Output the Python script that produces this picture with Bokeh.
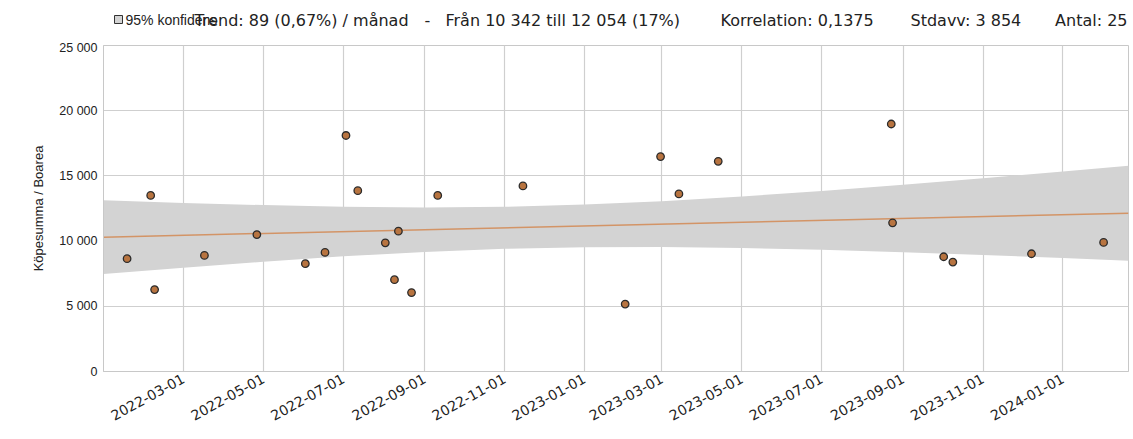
import pandas as pd
from bokeh.plotting import figure
from bokeh.layouts import column
from bokeh.models import (Range1d, FixedTicker, DatetimeTickFormatter,
                          CustomJSTickFormatter)
from bokeh.core.properties import value
from bokeh.embed import file_html
from bokeh.resources import INLINE

# ---------------- data ----------------
dates = ["2022-01-17", "2022-02-04", "2022-02-07", "2022-03-17", "2022-04-26",
         "2022-06-02", "2022-06-17", "2022-07-03", "2022-07-12", "2022-08-02",
         "2022-08-12", "2022-08-09", "2022-08-22", "2022-09-11", "2022-11-15",
         "2023-02-01", "2023-02-28", "2023-03-14", "2023-04-13", "2023-08-23",
         "2023-08-24", "2023-10-02", "2023-10-09", "2023-12-08", "2024-02-01"]
prices = [8650, 13500, 6280, 8900, 10500,
          8270, 9130, 18100, 13870, 9870,
          10760, 7040, 6050, 13500, 14230,
          5170, 16480, 13620, 16120, 18980,
          11400, 8800, 8390, 9030, 9900]

trend_dates = ["2021-12-30", "2024-02-20"]
trend_values = [10300, 12140]

band_dates = ["2021-12-30", "2022-03-01", "2022-05-01", "2022-07-01", "2022-09-01",
              "2022-11-01", "2023-01-01", "2023-03-01", "2023-05-01", "2023-07-01",
              "2023-09-01", "2023-11-01", "2024-01-01", "2024-02-20"]
band_upper = [13130, 12930, 12760, 12640, 12580, 12630, 12800, 13060, 13420, 13850,
              14320, 14820, 15340, 15780]
band_lower = [7470, 7960, 8420, 8830, 9170, 9410, 9530, 9540, 9470, 9330,
              9140, 8930, 8700, 8500]

x_tick_labels = ["2022-03-01", "2022-05-01", "2022-07-01", "2022-09-01", "2022-11-01",
                 "2023-01-01", "2023-03-01", "2023-05-01", "2023-07-01", "2023-09-01",
                 "2023-11-01", "2024-01-01"]
y_ticks = [0, 5000, 10000, 15000, 20000, 25000]

header_conf = "95% konfidens"
header_trend = "Trend: 89 (0,67%) / månad"
header_dash = "-"
header_from = "Från 10 342 till 12 054 (17%)"
header_corr = "Korrelation: 0,1375"
header_std = "Stdavv: 3 854"
header_n = "Antal: 25"


def ms(d):
    return pd.Timestamp(d).value // 10**6


X0 = ms("2021-12-30")
X1 = ms("2024-02-20")

W = 1133
HEAD_H = 40
MAIN_H = 399
LEFT = 103
RIGHT_PAD = 5

# ---------------- header strip (x in page pixels; frame aligned with chart) ----------------
h = figure(width=W, height=HEAD_H, output_backend="svg", toolbar_location=None,
           x_range=Range1d(LEFT, W - RIGHT_PAD), y_range=Range1d(HEAD_H, 0),
           x_axis_type=None, y_axis_type=None,
           min_border_left=LEFT, min_border_right=RIGHT_PAD,
           min_border_top=0, min_border_bottom=0,
           background_fill_color="white", border_fill_color="white")
h.outline_line_color = None
h.grid.visible = False
h.quad(left=[114], right=[122], top=[15], bottom=[23], fill_color="#d3d3d3",
       line_color="#333333", line_width=1)
h.text(x=[125], y=[19.5], text=[header_conf], text_font=value("Liberation Sans"),
       text_font_size=value("14px"), text_color="#222222", text_baseline="middle",
       text_align="left")
h.text(x=[194, 424, 445, 720, 910], y=[19.5] * 5,
       text=[header_trend, header_dash, header_from, header_corr, header_std],
       text_font=value("DejaVu Sans"), text_font_size=value("16px"),
       text_color="#222222", text_baseline="middle", text_align="left")
h.text(x=[1127], y=[19.5], text=[header_n], text_font=value("DejaVu Sans"),
       text_font_size=value("16px"), text_color="#222222", text_baseline="middle",
       text_align="right")

# ---------------- main chart ----------------
p = figure(width=W, height=MAIN_H, output_backend="svg", toolbar_location=None,
           x_range=Range1d(X0, X1), y_range=Range1d(0, 25000),
           min_border_left=LEFT, min_border_right=RIGHT_PAD, min_border_top=5,
           min_border_bottom=68, background_fill_color="white",
           border_fill_color="white")

p.varea(x=[ms(d) for d in band_dates], y1=band_lower, y2=band_upper,
        color="#d3d3d3")
p.line(x=[ms(d) for d in trend_dates], y=trend_values, line_color="#d39466",
       line_width=1.5)
p.scatter(x=[ms(d) for d in dates], y=prices, size=7.5, fill_color="#b87440",
          line_color="#2b2b2b", line_width=1.3)

p.xaxis.ticker = FixedTicker(ticks=[ms(d) for d in x_tick_labels])
fmt = "%Y-%m-%d"
p.xaxis.formatter = DatetimeTickFormatter(milliseconds=fmt, seconds=fmt, minsec=fmt,
                                          minutes=fmt, hourmin=fmt, hours=fmt,
                                          days=fmt, months=fmt, years=fmt)
p.xaxis.major_label_orientation = 0.5
p.xaxis.major_label_text_font = "DejaVu Sans"
p.xaxis.major_label_text_font_size = "14px"

p.yaxis.ticker = FixedTicker(ticks=y_ticks)
p.yaxis.formatter = CustomJSTickFormatter(
    code='return Math.round(tick).toString().replace(/\\B(?=(\\d{3})+(?!\\d))/g, " ");')
p.yaxis.major_label_text_font = "Liberation Sans"
p.yaxis.major_label_text_font_size = "12.5px"
p.yaxis.axis_label = "Köpesumma / Boarea"
p.yaxis.axis_label_text_font = "Liberation Sans"
p.yaxis.axis_label_text_font_size = "13px"
p.yaxis.axis_label_text_font_style = "normal"
p.yaxis.axis_label_text_color = "#222222"
p.yaxis.axis_label_standoff = 10

for ax in (p.xaxis[0], p.yaxis[0]):
    ax.major_tick_in = 0
    ax.major_tick_out = 0
    ax.minor_tick_in = 0
    ax.minor_tick_out = 0
    ax.axis_line_color = "#c8c8c8"
    ax.major_label_text_color = "#222222"
    ax.major_label_standoff = 6

p.grid.grid_line_color = "#cfcfcf"
p.grid.grid_line_width = 1.2
p.outline_line_color = "#c8c8c8"

layout = column(h, p, spacing=0)
open("out.html", "w").write(file_html(layout, INLINE))
